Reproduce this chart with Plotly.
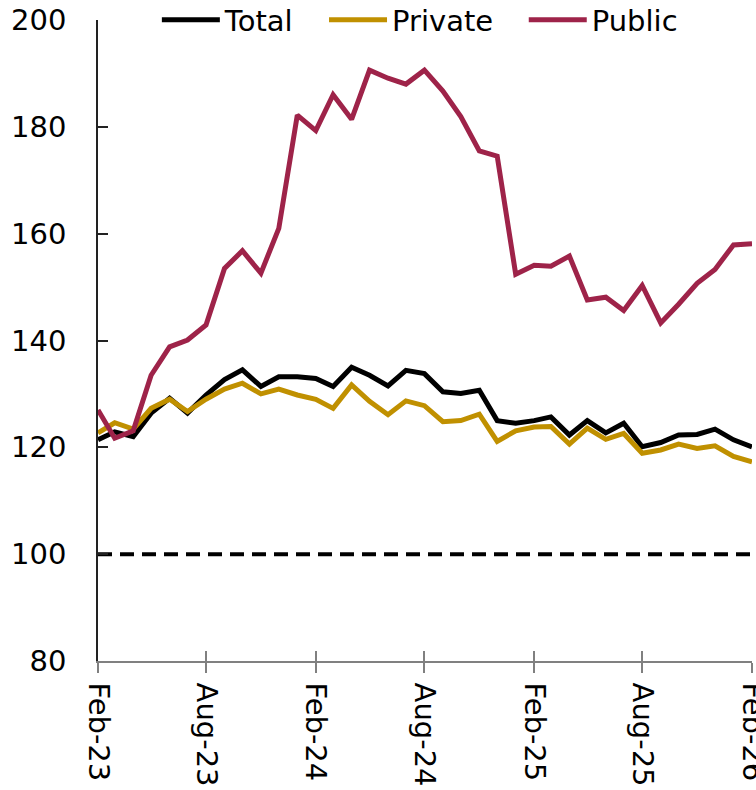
import pandas as pd
import plotly.graph_objects as go

months = pd.date_range("2023-02-01", periods=37, freq="MS")

total = [121.4, 122.9, 122.0, 126.4, 129.2, 126.4, 129.8, 132.7, 134.5, 131.4,
         133.2, 133.2, 132.9, 131.4, 135.0, 133.5, 131.5, 134.4, 133.8, 130.4,
         130.1, 130.7, 125.0, 124.5, 125.0, 125.7, 122.3, 125.0, 122.7, 124.5,
         120.1, 120.9, 122.3, 122.4, 123.4, 121.4, 120.1]
private = [122.7, 124.6, 123.4, 127.3, 129.0, 126.7, 129.0, 130.9, 132.0, 130.0,
           130.9, 129.8, 129.0, 127.3, 131.7, 128.6, 126.1, 128.7, 127.8, 124.8,
           125.0, 126.2, 121.1, 123.1, 123.8, 123.9, 120.6, 123.6, 121.5, 122.6,
           118.9, 119.5, 120.6, 119.8, 120.3, 118.3, 117.3]
public = [127.0, 121.7, 123.1, 133.5, 138.8, 140.1, 142.9, 153.5, 156.8, 152.6,
          161.0, 182.2, 179.3, 186.0, 181.4, 190.6, 189.1, 188.0, 190.6, 186.7,
          181.9, 175.5, 174.5, 152.4, 154.1, 153.9, 155.8, 147.6, 148.1, 145.6,
          150.3, 143.3, 146.8, 150.7, 153.3, 157.9, 158.1]
baseline = [100] * len(months)

FONT = "DejaVu Sans"
FS = 29

fig = go.Figure()
fig.add_trace(go.Scatter(x=months, y=baseline, mode="lines", showlegend=False,
                         line=dict(color="black", width=4, dash="14px,8px"),
                         hoverinfo="skip"))
fig.add_trace(go.Scatter(x=months, y=total, mode="lines", name="Total",
                         legend="legend",
                         line=dict(color="#000000", width=5)))
fig.add_trace(go.Scatter(x=months, y=private, mode="lines", name="Private",
                         legend="legend2",
                         line=dict(color="#C09000", width=5)))
fig.add_trace(go.Scatter(x=months, y=public, mode="lines", name="Public",
                         legend="legend3",
                         line=dict(color="#9E2349", width=5)))
# dummy trace for overlay x-axis (inside ticks)
fig.add_trace(go.Scatter(x=[months[0], months[-1]], y=[None, None], xaxis="x2",
                         showlegend=False, hoverinfo="skip"))

xr = [months[0], months[-1]]


def leg(x):
    return dict(orientation="h", x=x, xanchor="left", y=1.0, yanchor="middle",
                font=dict(family=FONT, size=FS), itemwidth=58,
                bgcolor="rgba(0,0,0,0)", borderwidth=0)


fig.update_layout(
    width=756, height=790,
    margin=dict(l=98, r=4, t=20, b=129, autoexpand=False),
    paper_bgcolor="white", plot_bgcolor="white",
    font=dict(family=FONT, size=FS, color="black"),
    showlegend=True,
    legend=leg(0.090),
    legend2=leg(0.3456),
    legend3=leg(0.651),
    xaxis=dict(range=xr, tickmode="linear", tick0="2023-02-01", dtick="M6",
               tickformat="%b-%y", tickangle=90, ticks="outside", ticklen=10,
               tickcolor="#808080", tickwidth=1.5, showline=True,
               linecolor="#808080", linewidth=1.5, showgrid=False, zeroline=False,
               automargin=False, ticklabeloverflow="allow", ticklabelstandoff=4,
               tickfont=dict(family=FONT, size=FS)),
    xaxis2=dict(range=xr, overlaying="x", anchor="y", side="bottom",
                tickmode="linear", tick0="2023-02-01", dtick="M6",
                ticks="inside", ticklen=10, tickcolor="#808080", tickwidth=1.5,
                showticklabels=False, showgrid=False, zeroline=False, showline=False,
                automargin=False),
    yaxis=dict(range=[80, 200], tickmode="linear", tick0=80, dtick=20,
               ticks="inside", ticklen=10, tickcolor="#222222", tickwidth=1.5,
               showline=True, linecolor="#222222", linewidth=1.5,
               showgrid=False, zeroline=False, ticklabelstandoff=24,
               automargin=False, ticklabeloverflow="allow",
               tickfont=dict(family=FONT, size=FS)),
)

fig.write_html(
    "out.html",
    config={"displayModeBar": False},
    post_script="document.body.style.margin='0';document.body.style.overflow='hidden';",
)
